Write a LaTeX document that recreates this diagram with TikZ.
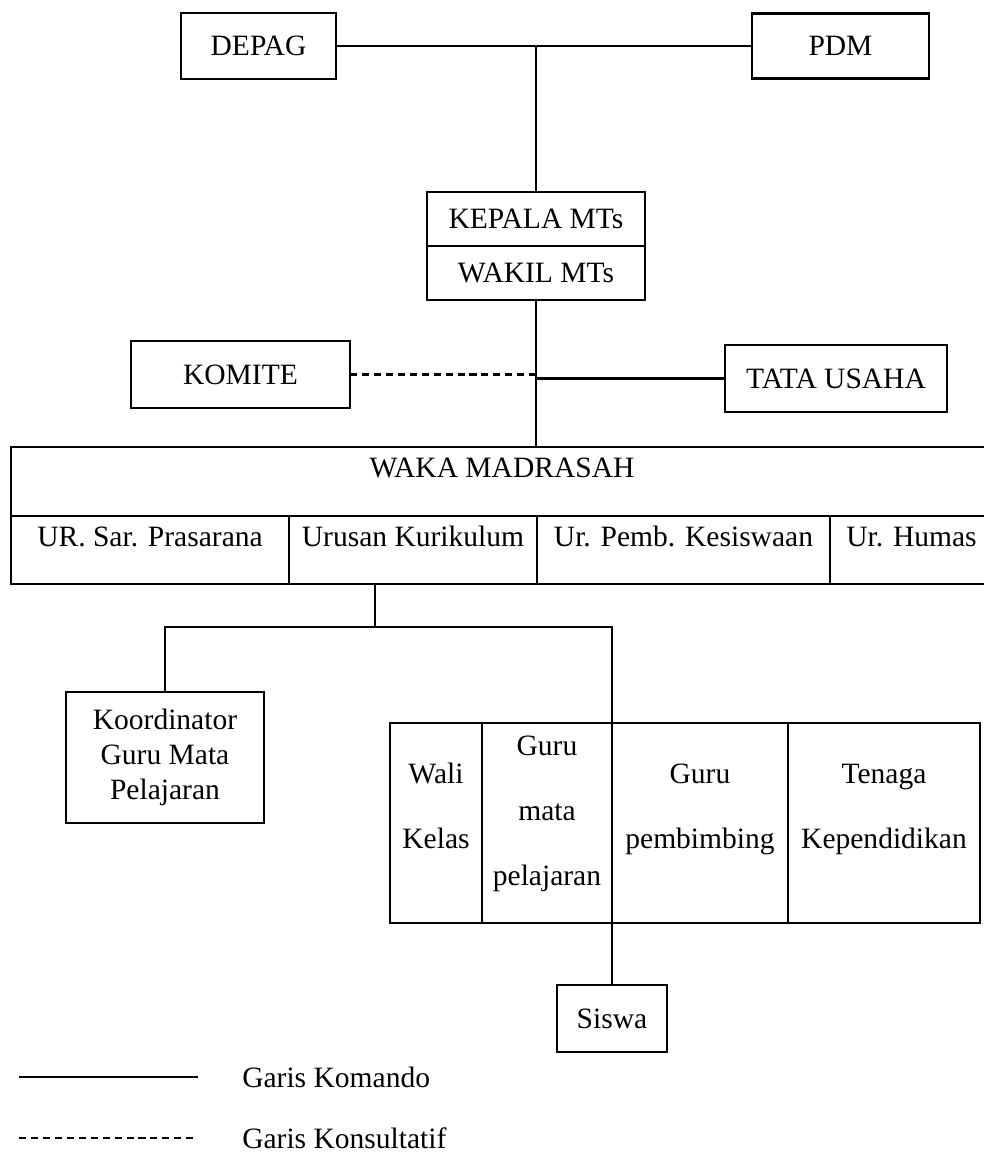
\documentclass[tikz,border=0pt]{standalone}
\usepackage{fontspec}
\setmainfont{Liberation Serif}
\usetikzlibrary{positioning}

\begin{document}
\begin{tikzpicture}[
    node distance=1cm and 1cm,
    every node/.style={font=\fontsize{21pt}{25pt}\selectfont},
    box/.style={draw, line width=1.8pt, inner sep=0pt, outer sep=0pt, align=center},
    rowcell/.style={box, minimum height=1.7cm, text height=0.75cm, text depth=0.95cm},
    groupcell/.style={box, minimum height=5cm, font=\fontsize{21pt}{46pt}\selectfont},
    legendtext/.style={anchor=west, inner sep=0pt},
    link/.style={line width=1.6pt},
    konsul/.style={line width=1.6pt, dash pattern=on 5pt off 3.5pt},
  ]
  \useasboundingbox (0,0) rectangle (24.6,-28.85);

  % Top level
  \node[box, minimum width=3.875cm, minimum height=1.65cm] (depag) at (6.4625,-1.15) {DEPAG};
  \node[box, minimum width=4.425cm, minimum height=1.625cm, right=10.4cm of depag] (pdm) {PDM};
  \node[box, minimum width=5.45cm, minimum height=1.35cm, below right=2.825cm and 2.275cm of depag] (kepala) {KEPALA MTs};
  \node[box, minimum width=5.45cm, minimum height=1.35cm, below=0cm of kepala] (wakil) {WAKIL MTs};

  % Side boxes
  \node[box, minimum width=5.475cm, minimum height=1.675cm, below left=1.025cm and 1.925cm of wakil] (komite) {KOMITE};
  \node[box, minimum width=5.55cm, minimum height=1.675cm, below right=1.125cm and 2cm of wakil] (tata) {TATA USAHA};

  % Waka madrasah with its units
  \node[box, minimum width=24.55cm, text height=0.75cm, text depth=0.975cm, below=3.675cm of wakil, xshift=-0.85cm] (waka) {WAKA MADRASAH};
  \node[rowcell, minimum width=6.95cm, below right=0cm of waka.south west] (sarpras) {UR. Sar. Prasarana};
  \node[rowcell, minimum width=6.2cm, right=0cm of sarpras] (kurikulum) {Urusan Kurikulum};
  \node[rowcell, minimum width=7.325cm, right=0cm of kurikulum] (kesiswaan) {Ur. Pemb. Kesiswaan};
  \node[rowcell, minimum width=4.075cm, right=0cm of kesiswaan] (humas) {Ur. Humas};

  % Lower level
  \node[box, minimum width=4.95cm, minimum height=3.275cm, below right=2.7cm and 1.375cm of sarpras.south west] (koordinator) {Koordinator\\Guru Mata\\Pelajaran};
  \node[groupcell, minimum width=2.3cm, text height=3.125cm, text depth=1.875cm, below right=0.775cm and 3.15cm of koordinator.north east] (wali) {Wali\\Kelas};
  \node[groupcell, minimum width=3.25cm, text height=4.05cm, text depth=0.95cm, right=0cm of wali] (gurump) {Guru\\mata\\pelajaran};
  \node[groupcell, minimum width=4.4cm, text height=3.125cm, text depth=1.875cm, right=0cm of gurump] (gurubk) {Guru\\pembimbing};
  \node[groupcell, minimum width=4.8cm, text height=3.125cm, text depth=1.875cm, right=0cm of gurubk] (tenaga) {Tenaga\\Kependidikan};
  \node[box, minimum width=2.75cm, minimum height=1.675cm, below=1.55cm of gurump.south east] (siswa) {Siswa};

  % Connectors
  \draw[link] (depag.east) -- (pdm.west);
  \draw[link] (kepala.north) -- (kepala.north |- depag.east);
  \draw[link] (wakil.south) -- (wakil.south |- waka.north);
  \draw[konsul] (komite.east) -- (komite.east -| wakil.south);
  \draw[link] (tata.west -| wakil.south) -- (tata.west);
  \coordinate (split) at ([xshift=-0.95cm, yshift=-1.075cm]kurikulum.south);
  \draw[link] (split |- kurikulum.south) -- (split);
  \draw[link] (koordinator.north) |- (split) -| (gurump.north east);
  \draw[link] (gurump.south east) -- (siswa.north);

  % Legend
  \node[legendtext] (komando) at (6.05,-26.925) {Garis Komando};
  \node[legendtext] (konsultatif) at (6.05,-28.45) {Garis Konsultatif};
  \coordinate[left=1.1cm of komando.west] (komandoR);
  \coordinate[left=4.475cm of komandoR] (komandoL);
  \coordinate[left=1.225cm of konsultatif.west] (konsulR);
  \coordinate[left=4.35cm of konsulR] (konsulL);
  \draw[link] (komandoL) -- (komandoR);
  \draw[konsul] (konsulL) -- (konsulR);

\end{tikzpicture}
\end{document}
